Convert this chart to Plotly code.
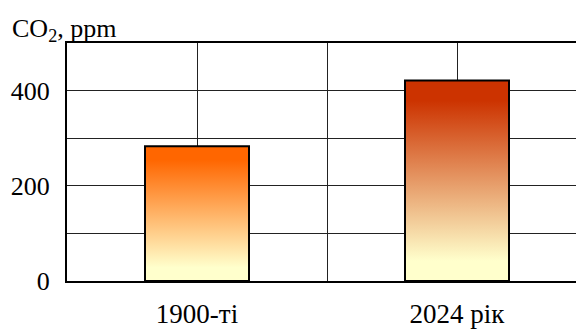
import plotly.graph_objects as go

# ---- data ----
categories = ["1900-ті", "2024 рік"]
co2_ppm = [283, 421]
top_colors = ["#FF6600", "#CC3300"]
bottom_color = "#FFFFCC"
y_tick_values = [0, 200, 400]
y_title = "CO<sub>2</sub>, ppm"

FONT = "Liberation Serif"
half_w = 0.2

fig = go.Figure()
for i, (cat, v, tc) in enumerate(zip(categories, co2_ppm, top_colors)):
    fig.add_trace(go.Scatter(
        x=[i - half_w, i + half_w, i + half_w, i - half_w, i - half_w],
        y=[0, 0, v, v, 0],
        mode="lines",
        fill="toself",
        fillgradient=dict(
            type="vertical",
            colorscale=[[0, bottom_color], [0.1, bottom_color], [0.9, tc], [1, tc]],
        ),
        line=dict(color="#000000", width=2),
        name=cat,
        hoverinfo="skip",
        showlegend=False,
    ))

fig.update_layout(
    width=576, height=329,
    margin=dict(l=67, r=0, t=43, b=48, autoexpand=False),
    paper_bgcolor="white",
    plot_bgcolor="white",
    font=dict(family=FONT, size=26, color="#000"),
    showlegend=False,
)

fig.update_xaxes(
    range=[-0.5, -0.5 + 509 / 260],
    tickvals=list(range(len(categories))),
    ticktext=categories,
    showgrid=True, gridcolor="#222", gridwidth=1,
    minor=dict(tickvals=[0.5], showgrid=True, gridcolor="#222", gridwidth=1),
    showline=True, linecolor="#000", linewidth=2, mirror=True,
    ticks="", ticklabelstandoff=8,
    zeroline=False, automargin=False,
    tickfont=dict(family=FONT, size=27, color="#000"),
)
fig.update_yaxes(
    range=[0, 500],
    tickvals=y_tick_values,
    showgrid=True, gridcolor="#222", gridwidth=1,
    minor=dict(dtick=100, tick0=0, showgrid=True, gridcolor="#222", gridwidth=1),
    showline=True, linecolor="#000", linewidth=2, mirror=False,
    ticks="", ticklabelstandoff=10,
    zeroline=False, automargin=False,
    tickfont=dict(family=FONT, size=26, color="#000"),
)

fig.add_annotation(
    text=y_title, xref="paper", yref="paper",
    x=-57 / 509, y=1, xanchor="left", yanchor="bottom", yshift=-5,
    showarrow=False, font=dict(family=FONT, size=26, color="#000"),
)

fig.write_html("out.html")
